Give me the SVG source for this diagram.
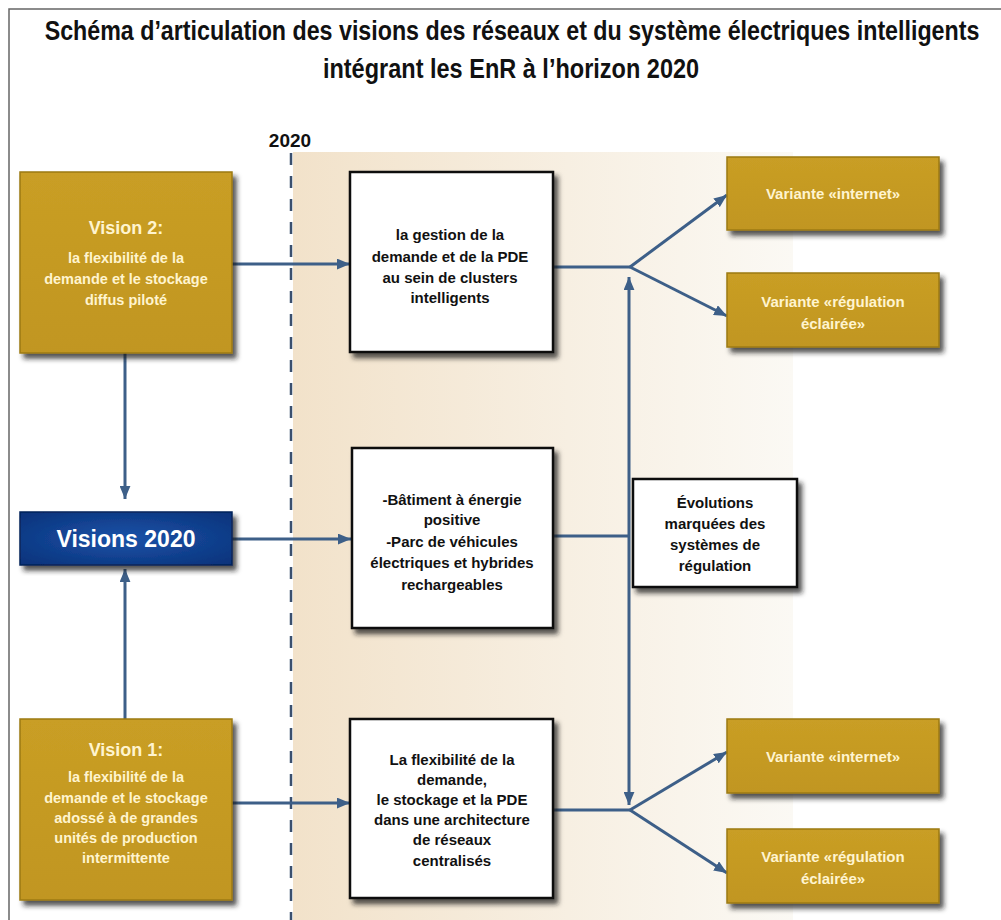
<svg xmlns="http://www.w3.org/2000/svg" width="1001" height="920" viewBox="0 0 1001 920">
<style>
.title{font-family:"Liberation Sans",Arial,sans-serif;font-weight:bold;font-size:28px;fill:#111;text-anchor:middle}
.gold{fill:url(#goldg);stroke:#9c7a12;stroke-width:1.5}
.white{fill:#fff;stroke:#111;stroke-width:2.5}
.gt{font-family:"Liberation Sans",Arial,sans-serif;font-weight:bold;font-size:14.5px;fill:#fff4cf;text-anchor:middle}
.gh{font-family:"Liberation Sans",Arial,sans-serif;font-weight:bold;font-size:18px;fill:#fff4cf;text-anchor:middle}
.wt{font-family:"Liberation Sans",Arial,sans-serif;font-weight:bold;font-size:15px;fill:#111;text-anchor:middle}
.vt{font-family:"Liberation Sans",Arial,sans-serif;font-weight:bold;font-size:15px;fill:#fff4cf;text-anchor:middle}
.conn{stroke:#3d5f88;stroke-width:3;fill:none}
</style>
<defs>
<linearGradient id="bandg" x1="0" y1="0" x2="1" y2="0">
<stop offset="0" stop-color="#f2e2ca"/>
<stop offset="0.55" stop-color="#f7efe2"/>
<stop offset="1" stop-color="#fbf9f4"/>
</linearGradient>
<linearGradient id="goldg" x1="0" y1="0" x2="0" y2="1">
<stop offset="0" stop-color="#c99e25"/>
<stop offset="1" stop-color="#c19620"/>
</linearGradient>
<radialGradient id="blueg" cx="0.5" cy="0.5" r="0.7">
<stop offset="0" stop-color="#1a52a8"/>
<stop offset="1" stop-color="#0a327a"/>
</radialGradient>
<filter id="sh" x="-10%" y="-10%" width="130%" height="130%">
<feDropShadow dx="4" dy="5" stdDeviation="2.5" flood-color="#1a1a1a" flood-opacity="0.75"/>
</filter>
<marker id="arr" viewBox="0 0 12 10" refX="12" refY="5" markerWidth="13" markerHeight="11" markerUnits="userSpaceOnUse" orient="auto-start-reverse">
<path d="M0,0 L12,5 L0,10 Z" fill="#3d5f88"/>
</marker>
</defs>
<rect x="0" y="0" width="1001" height="920" fill="#fff"/>
<rect x="293" y="152" width="500" height="768" fill="url(#bandg)"/>
<path d="M9,920 V9 H1001" fill="none" stroke="#666" stroke-width="1.5"/>
<g id="title">
<text class="title" transform="translate(512,40) scale(0.83,1)">Schéma d’articulation des visions des réseaux et du système électriques intelligents</text>
<text class="title" transform="translate(511,78) scale(0.84,1)">intégrant les EnR à l’horizon 2020</text>
</g>
<g id="year">
<text x="290" y="147" font-family="Liberation Sans,Arial,sans-serif" font-weight="bold" font-size="19" fill="#111" text-anchor="middle">2020</text>
<line x1="291" y1="153" x2="291" y2="920" stroke="#3a4f6e" stroke-width="2.5" stroke-dasharray="12,11"/>
</g>
<g id="connectors">
<line class="conn" x1="232" y1="264" x2="350" y2="264" marker-end="url(#arr)"/>
<line class="conn" x1="232" y1="539" x2="351" y2="539" marker-end="url(#arr)"/>
<line class="conn" x1="232" y1="803" x2="350" y2="803" marker-end="url(#arr)"/>
<line class="conn" x1="125" y1="353" x2="125" y2="499" marker-end="url(#arr)"/>
<line class="conn" x1="125" y1="719" x2="125" y2="569" marker-end="url(#arr)"/>
<line class="conn" x1="553" y1="267" x2="630" y2="267"/>
<line class="conn" x1="630" y1="267" x2="727" y2="195" marker-end="url(#arr)"/>
<line class="conn" x1="630" y1="267" x2="727" y2="316" marker-end="url(#arr)"/>
<line class="conn" x1="629" y1="277" x2="629" y2="805" marker-start="url(#arr)" marker-end="url(#arr)"/>
<line class="conn" x1="553" y1="536" x2="629" y2="536"/>
<line class="conn" x1="553" y1="810" x2="630" y2="810"/>
<line class="conn" x1="630" y1="810" x2="727" y2="752" marker-end="url(#arr)"/>
<line class="conn" x1="630" y1="810" x2="727" y2="873" marker-end="url(#arr)"/>
</g>
<g id="vision2">
<rect class="gold" x="20" y="172" width="212" height="181" filter="url(#sh)"/>
<text class="gh" x="126" y="234">Vision 2:</text>
<text class="gt" x="126" y="263">la flexibilité de la</text>
<text class="gt" x="126" y="284">demande et le stockage</text>
<text class="gt" x="126" y="305">diffus piloté</text>
</g>
<g id="visions2020">
<rect x="20" y="512" width="212" height="53" fill="url(#blueg)" stroke="#062459" stroke-width="1.5" filter="url(#sh)"/>
<text x="126" y="547" font-family="Liberation Sans,Arial,sans-serif" font-weight="bold" font-size="23" fill="#fff" text-anchor="middle">Visions 2020</text>
</g>
<g id="vision1">
<rect class="gold" x="20" y="719" width="212" height="181" filter="url(#sh)"/>
<text class="gh" x="126" y="756">Vision 1:</text>
<text class="gt" x="126" y="782">la flexibilité de la</text>
<text class="gt" x="126" y="803">demande et le stockage</text>
<text class="gt" x="126" y="823">adossé à de grandes</text>
<text class="gt" x="126" y="843">unités de production</text>
<text class="gt" x="126" y="863">intermittente</text>
</g>
<g id="gestion">
<rect class="white" x="350" y="172" width="203" height="180" filter="url(#sh)"/>
<text class="wt" x="450" y="240">la gestion de la</text>
<text class="wt" x="450" y="262">demande et de la PDE</text>
<text class="wt" x="450" y="283">au sein de clusters</text>
<text class="wt" x="450" y="303">intelligents</text>
</g>
<g id="batiment">
<rect class="white" x="352" y="448" width="201" height="180" filter="url(#sh)"/>
<text class="wt" x="452" y="505">-Bâtiment à énergie</text>
<text class="wt" x="452" y="525">positive</text>
<text class="wt" x="452" y="547">-Parc de véhicules</text>
<text class="wt" x="452" y="568">électriques et hybrides</text>
<text class="wt" x="452" y="590">rechargeables</text>
</g>
<g id="flexibilite">
<rect class="white" x="350" y="719" width="203" height="179" filter="url(#sh)"/>
<text class="wt" x="452" y="765">La flexibilité de la</text>
<text class="wt" x="452" y="785">demande,</text>
<text class="wt" x="452" y="805">le stockage et la PDE</text>
<text class="wt" x="452" y="825">dans une architecture</text>
<text class="wt" x="452" y="845">de réseaux</text>
<text class="wt" x="452" y="866">centralisés</text>
</g>
<g id="evolutions">
<rect class="white" x="633" y="479" width="164" height="108" filter="url(#sh)"/>
<text class="wt" x="715" y="508">Évolutions</text>
<text class="wt" x="715" y="529">marquées des</text>
<text class="wt" x="715" y="550">systèmes de</text>
<text class="wt" x="715" y="571">régulation</text>
</g>
<g id="var-internet-1">
<rect class="gold" x="727" y="157" width="212" height="73" filter="url(#sh)"/>
<text class="vt" x="833" y="199">Variante «internet»</text>
</g>
<g id="var-regulation-1">
<rect class="gold" x="727" y="273" width="212" height="74" filter="url(#sh)"/>
<text class="vt" x="833" y="307">Variante «régulation</text>
<text class="vt" x="833" y="329">éclairée»</text>
</g>
<g id="var-internet-2">
<rect class="gold" x="727" y="719" width="212" height="74" filter="url(#sh)"/>
<text class="vt" x="833" y="762">Variante «internet»</text>
</g>
<g id="var-regulation-2">
<rect class="gold" x="727" y="829" width="212" height="74" filter="url(#sh)"/>
<text class="vt" x="833" y="862">Variante «régulation</text>
<text class="vt" x="833" y="884">éclairée»</text>
</g>
</svg>
